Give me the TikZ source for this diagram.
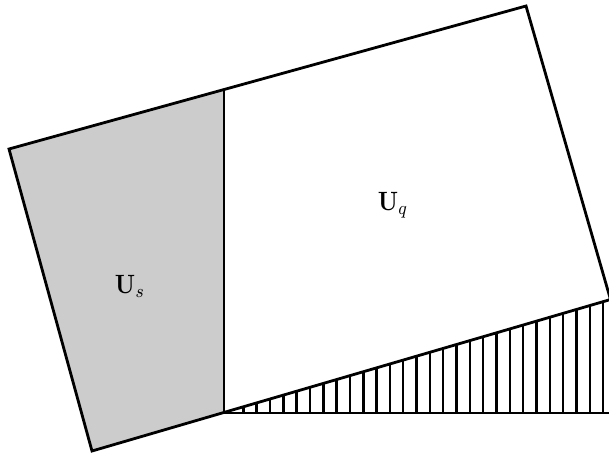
\documentclass[tikz,border=0pt]{standalone}
\usepackage{graphicx}
\begin{document}
\begin{tikzpicture}[x=1pt,y=-1pt,
  edge/.style={line width=2.8pt, line join=miter},
  hatchline/.style={line width=2.4pt},
  baseline/.style={line width=2.2pt},
  lbl/.style={inner sep=0pt}]
\useasboundingbox (0,0) rectangle (609,452);
\clip (0,0) rectangle (609,452);
\coordinate (A) at (9,149);
\coordinate (B) at (526,6);
\coordinate (C) at (610.5,299.5);
\coordinate (D) at (92,451);
\coordinate (T) at (224,89.5);
\coordinate (M) at (224,412.6);
\coordinate (R) at (625,412.6);
\fill[gray!40] (A) -- (T) -- (M) -- (D) -- cycle;
\begin{scope}
  \clip (M) -- (R) -- (625,295.1) -- cycle;
  \foreach \k in {0,...,30} {
    \draw[hatchline] ({230+13.33*\k},413) -- ({230+13.33*\k},250);
  }
\end{scope}
\draw[baseline] (M) -- (R);
\draw[edge] (A) -- (B) -- (C) -- (D) -- cycle;
\draw[edge] (T) -- (M);
\node[lbl] (us) at (130,286) {\scalebox{2.3}[2.65]{$\mathbf{U}_s$}};
\node[lbl] (uq) at (393,205) {\scalebox{2.3}[2.65]{$\mathbf{U}_q$}};
\end{tikzpicture}
\end{document}
